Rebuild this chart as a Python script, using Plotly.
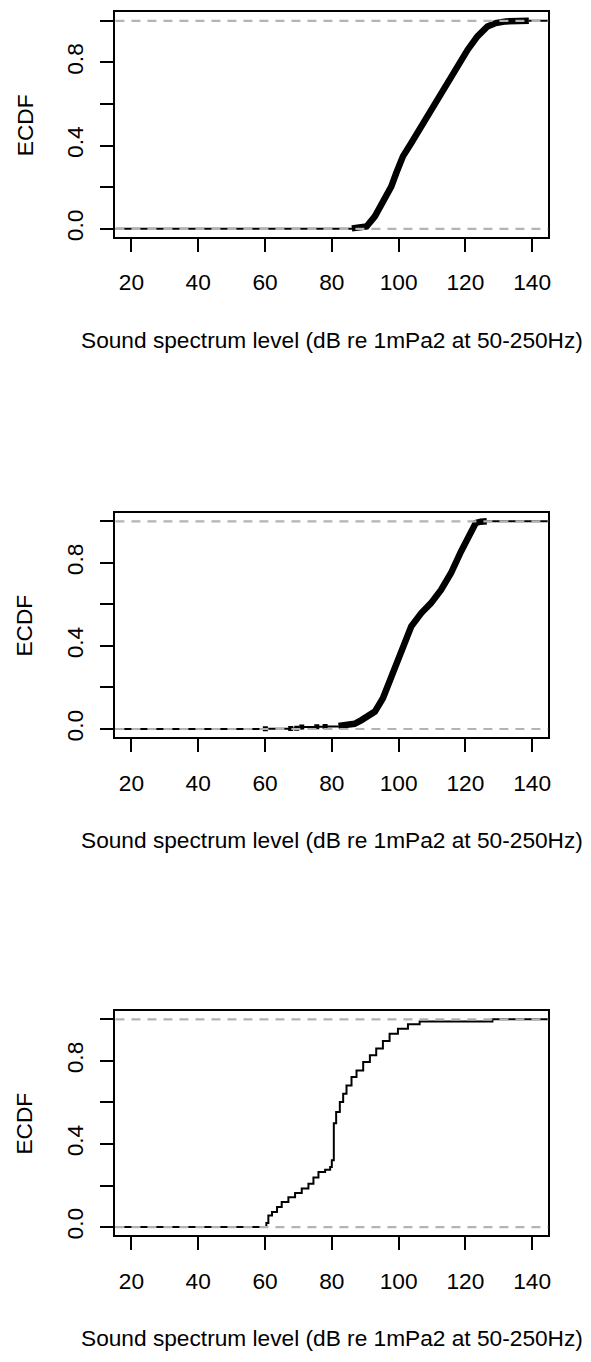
import plotly.graph_objects as go

# ---------------- data ----------------
X_TICKS = [20, 40, 60, 80, 100, 120, 140]
Y_TICKS = [0.0, 0.2, 0.4, 0.6, 0.8, 1.0]
Y_TICKTEXT = ["0.0", "", "0.4", "", "0.8", ""]
X_TITLE = "Sound spectrum level (dB re 1mPa2 at 50-250Hz)"
Y_TITLE = "ECDF"
X_RANGE = [15.2, 144.8]
Y_RANGE = [-0.04, 1.04]

p1_level = [86.0, 88.9, 90.4, 92.9, 95.3, 97.8, 99.3, 101.3, 103.8, 106.8, 109.3,
            111.7, 114.7, 117.7, 120.7, 123.6, 126.6, 129.1, 132.1, 136.0, 139.0]
p1_ecdf = [0.002, 0.004, 0.011, 0.060, 0.124, 0.203, 0.268, 0.348, 0.412, 0.492, 0.556,
           0.620, 0.708, 0.788, 0.861, 0.925, 0.973, 0.989, 0.997, 0.999, 1.0]
p1_dense_from = 0

p2_level = [60.1, 67.7, 69.5, 71.0, 75.5, 78.0, 82.0, 86.8, 88.9, 92.9, 95.3, 97.8,
            100.3, 102.2, 103.8, 106.8, 109.7, 112.7, 115.7, 118.7, 121.2, 123.1,
            124.6, 126.4]
p2_ecdf = [0.001, 0.002, 0.004, 0.010, 0.011, 0.012, 0.015, 0.025, 0.043, 0.084, 0.148,
           0.244, 0.341, 0.421, 0.494, 0.558, 0.606, 0.670, 0.751, 0.855, 0.935, 0.992,
           0.998, 1.0]
p2_dense_from = 6

p3_level = [60.4, 61.0, 62.1, 63.6, 65.0, 67.0, 69.0, 71.0, 73.0, 74.5, 76.0, 78.0,
            79.5, 80.0, 80.6, 81.3, 82.4, 83.4, 84.4, 85.9, 87.4, 89.4, 91.4, 93.3,
            95.3, 97.3, 99.8, 102.8, 106.3, 128.1]
p3_ecdf = [0.020, 0.056, 0.072, 0.096, 0.120, 0.144, 0.164, 0.185, 0.209, 0.238, 0.265,
           0.276, 0.289, 0.321, 0.500, 0.554, 0.602, 0.642, 0.682, 0.722, 0.754, 0.795,
           0.827, 0.859, 0.896, 0.931, 0.955, 0.976, 0.990, 1.0]
p3_dense_from = None

panels = [
    (p1_level, p1_ecdf, p1_dense_from),
    (p2_level, p2_ecdf, p2_dense_from),
    (p3_level, p3_ecdf, p3_dense_from),
]

# ---------------- layout geometry (pixels) ----------------
W, H = 591, 1362
BOX_L, BOX_R = 116, 551
BOXES = [(12.5, 237.8), (514.5, 739.5), (1014.0, 1239.0)]  # (top, bottom)
FONT = "Liberation Sans, Arial, sans-serif"
FS = 22.7

fig = go.Figure()


def add_line(xs, ys, xa, ya, width, shape):
    fig.add_trace(go.Scatter(x=xs, y=ys, mode="lines",
                             line=dict(color="black", width=width, shape=shape),
                             xaxis=xa, yaxis=ya, showlegend=False, hoverinfo="skip"))


for i, (lev, ecd, dense_from) in enumerate(panels):
    n = i + 1
    xa = "x" if n == 1 else f"x{n}"
    ya = "y" if n == 1 else f"y{n}"
    if dense_from is None:
        # thin step line, extended to the plot edges
        add_line([X_RANGE[0]] + lev + [X_RANGE[1]], [0.0] + ecd + [ecd[-1]], xa, ya, 2, "hv")
    else:
        # thin step part (left tail), thick dense part, thin right tail
        add_line([X_RANGE[0]] + lev[:dense_from + 1], [0.0] + ecd[:dense_from + 1], xa, ya, 2, "hv")
        add_line(lev[dense_from:], ecd[dense_from:], xa, ya, 6.5, "linear")
        add_line([lev[-1], X_RANGE[1]], [ecd[-1], ecd[-1]], xa, ya, 2, "hv")
        if dense_from > 0:
            fig.add_trace(go.Scatter(x=lev[:dense_from], y=ecd[:dense_from], mode="markers",
                                     marker=dict(color="black", size=5, symbol="square"),
                                     xaxis=xa, yaxis=ya, showlegend=False, hoverinfo="skip"))
    # grey dashed 0 / 1 lines drawn above the curve
    for yv in (0.0, 1.0):
        fig.add_shape(type="line", xref=f"{xa} domain", yref=ya, x0=0, x1=1, y0=yv, y1=yv,
                      line=dict(color="#b3b3b3", width=2.2, dash="9px,7px"), layer="above")

    top, bot = BOXES[i]
    dom_y = [1 - bot / H, 1 - top / H]
    axis_common = dict(showline=True, mirror=True, linecolor="black", linewidth=2,
                       ticks="outside", ticklen=13, tickwidth=2, tickcolor="black",
                       showgrid=False, zeroline=False, fixedrange=True,
                       tickfont=dict(family=FONT, size=FS, color="black"))
    fig.update_layout(**{
        ("xaxis" if n == 1 else f"xaxis{n}"): dict(
            domain=[BOX_L / W, BOX_R / W], range=X_RANGE, anchor=ya,
            tickvals=X_TICKS, ticktext=[str(t) for t in X_TICKS], ticklabelstandoff=11,
            **axis_common),
        ("yaxis" if n == 1 else f"yaxis{n}"): dict(
            domain=dom_y, range=Y_RANGE, anchor=xa,
            tickvals=Y_TICKS, ticktext=Y_TICKTEXT, tickangle=-90, ticklabelstandoff=8,
            **axis_common),
    })
    fig.add_annotation(text=X_TITLE, xref="paper", yref="paper",
                       x=(BOX_L + BOX_R) / 2 / W, y=1 - (bot + 103) / H,
                       xanchor="center", yanchor="middle", showarrow=False,
                       font=dict(family=FONT, size=FS, color="black"))
    fig.add_annotation(text=Y_TITLE, xref="paper", yref="paper",
                       x=24.5 / W, y=1 - (top + bot) / 2 / H, textangle=-90,
                       xanchor="center", yanchor="middle", showarrow=False,
                       font=dict(family=FONT, size=FS, color="black"))

fig.update_layout(width=W, height=H, margin=dict(l=0, r=0, t=0, b=0),
                  paper_bgcolor="white", plot_bgcolor="white",
                  font=dict(family=FONT, size=FS, color="black"))

fig.write_html("out.html", config={"displayModeBar": False})
